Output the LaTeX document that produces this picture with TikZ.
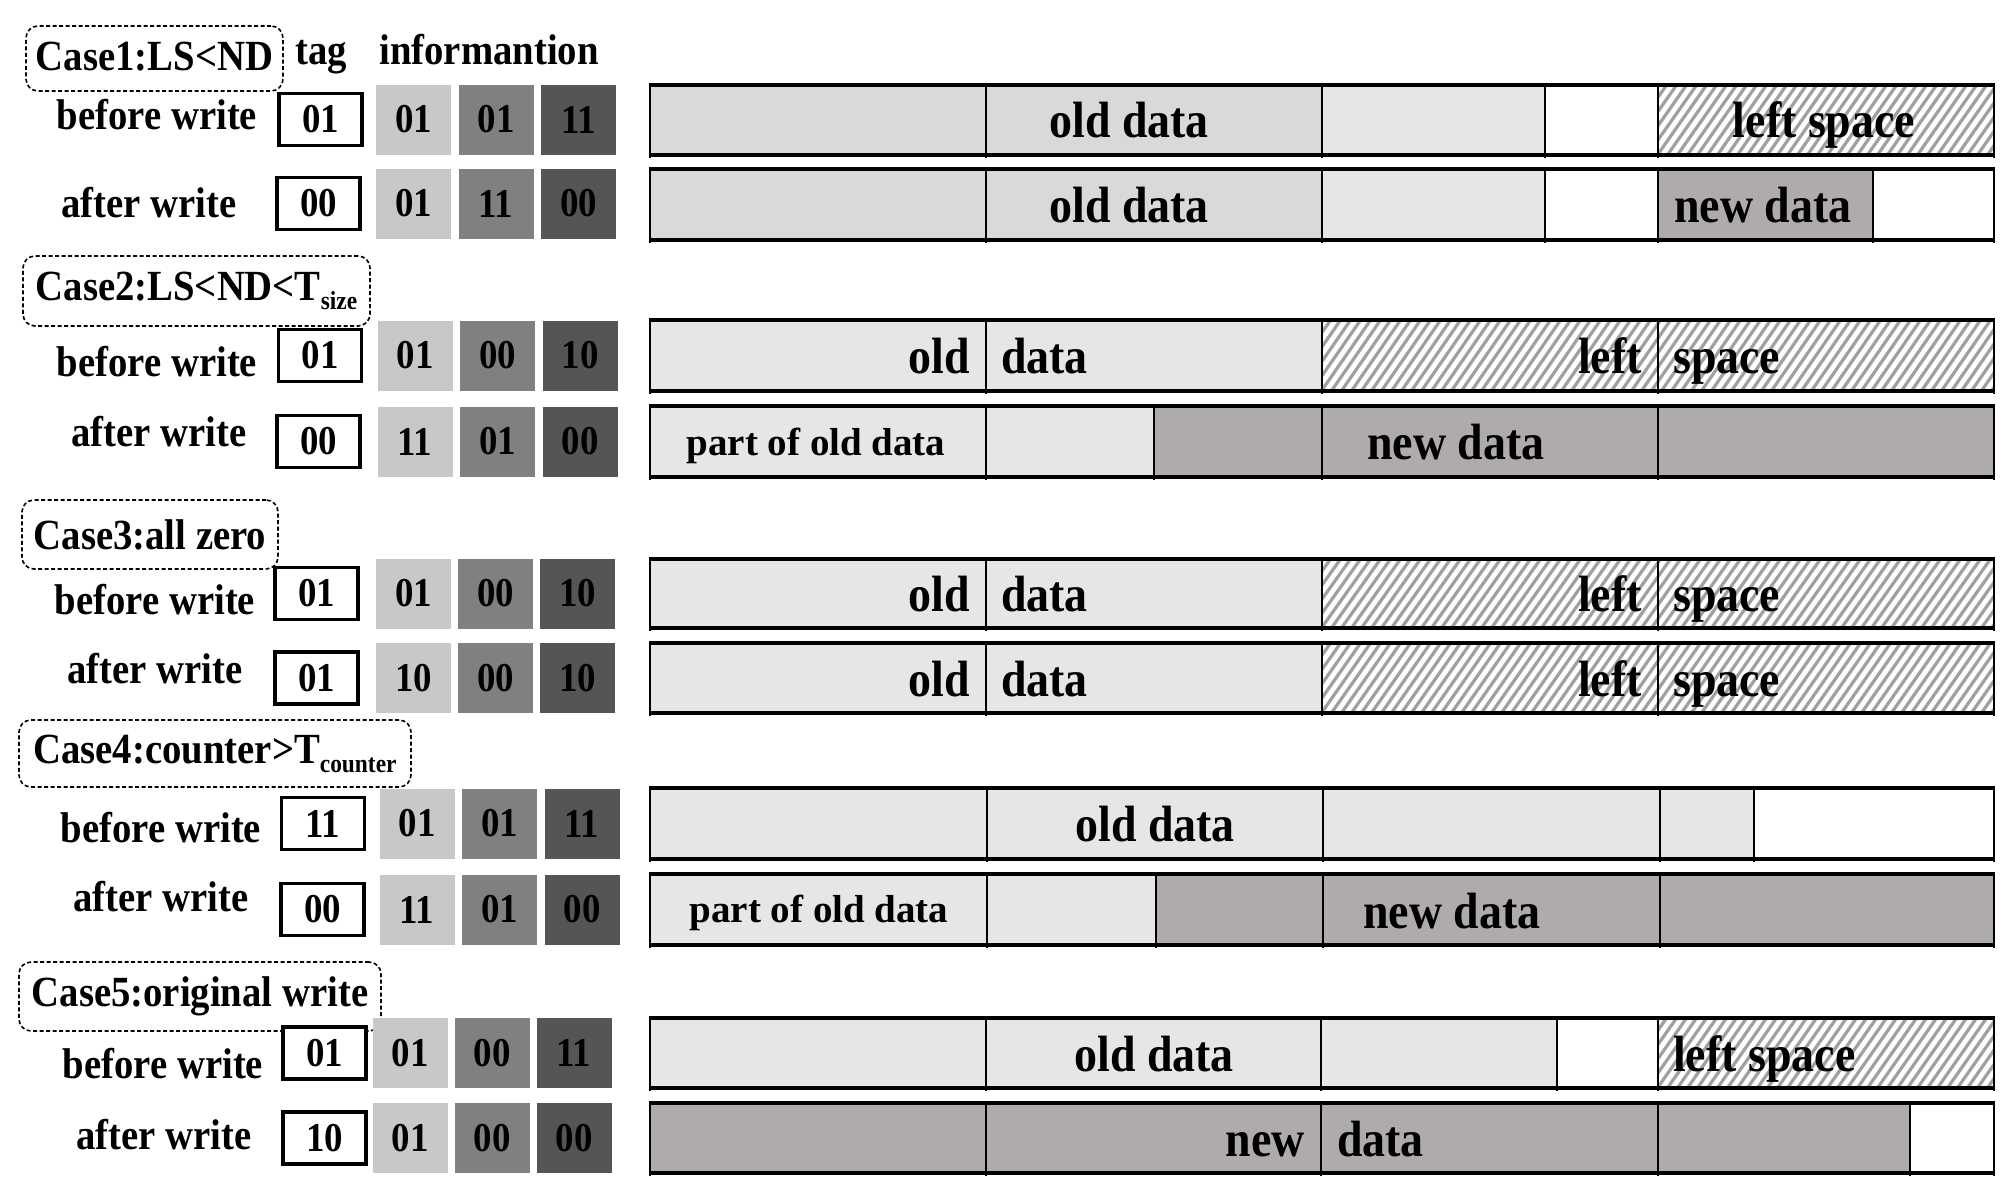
\documentclass[tikz,border=0pt]{standalone}
\usepackage{fontspec}
\newfontfamily\tnr{Liberation Serif}[FakeStretch=0.9]
\newfontfamily\tnrw{Liberation Serif}
\definecolor{sqA}{HTML}{C8C8C8}
\definecolor{sqB}{HTML}{808080}
\definecolor{sqC}{HTML}{555555}
\definecolor{oldA}{HTML}{D9D9D9}
\definecolor{oldB}{HTML}{E6E6E6}
\definecolor{newd}{HTML}{AFABAB}
\definecolor{hatchc}{HTML}{A0A0A0}
\tikzset{
  lbl/.style={font=\tnr\bfseries\fontsize{43}{43}\selectfont, inner sep=0pt, anchor=base},
  big/.style={font=\tnr\bfseries\fontsize{51}{51}\selectfont, inner sep=0pt, anchor=base},
  smalltxt/.style={font=\tnrw\bfseries\fontsize{39}{39}\selectfont, inner sep=0pt, anchor=base},
  casebox/.style={draw, dash pattern=on 4pt off 2.5pt, line width=1.6pt, rounded corners=12pt,
    inner sep=0pt, font=\tnr\bfseries\fontsize{43}{43}\selectfont},
  tagbox/.style={draw, line width=3.8pt, fill=white, inner sep=0pt, minimum width=83pt,
    minimum height=52pt, font=\tnr\bfseries\fontsize{41}{41}\selectfont},
  sqbox/.style={inner sep=0pt, minimum width=75pt, minimum height=70pt,
    font=\tnr\bfseries\fontsize{41}{41}\selectfont},
  hline/.style={line width=3.5pt},
  vline/.style={line width=1.8pt},
  hl/.style={hatchc, line width=3.2pt}
}
\newcommand\hatchrect[4]{%
  \begin{scope}
    \clip (#1,#2) rectangle (#3,#4);
    \fill[white] (#1,#2) rectangle (#3,#4);
    \foreach \i in {0,...,74} {\draw[hl] ({#1-52+10*\i},{#4+2}) -- ({#1+10*\i},{#2-2});}
  \end{scope}}
\newcommand\frameH[2]{%
  \draw[hline] (650,#1) -- (1994,#1);
  \draw[hline] (650,#2) -- (1994,#2);}
\newcommand\divs[3]{%
  \foreach \dx in {650,#3,1994} {\draw[vline] (\dx,{#1-2}) -- (\dx,{#2+3});}}
\newcommand\inforow[9]{% name, ycenter, tagx, tagval, x1, v1, v2, v3, dx
  \node[tagbox] (#1tag) at (#3,#2) {#4};
  \node[sqbox, fill=sqA] (#1s1) at (#5,#2) {#6};
  \node[sqbox, fill=sqB] (#1s2) at ({#5+#9},#2) {#7};
  \node[sqbox, fill=sqC] (#1s3) at ({#5+2*#9},#2) {#8};}
\begin{document}
\begin{tikzpicture}[x=1pt,y=-1pt]
\useasboundingbox (0,0) rectangle (2010,1192);
\fill[white] (0,0) rectangle (2010,1192);

% ---------------- Case 1 ----------------
\node[casebox, minimum width=257pt, minimum height=65pt] (c1) at (154.5,58.5) {\raisebox{4pt}{Case1:LS<ND}};
\node[lbl] (tagh) at (321,64) {tag};
\node[lbl] (infoh) at (489,64) {informantion};
\node[lbl] (c1b) at (157,129) {before write};
\node[lbl] (c1a) at (149,217) {after write};
\inforow{c1r1}{119.5}{320.5}{01}{413.5}{01}{01}{11}{82.5}
\inforow{c1r2}{203.5}{318.5}{00}{413.5}{01}{11}{00}{82.5}
% bar 1
\fill[oldA] (650,85) rectangle (1322,155);
\fill[oldB] (1322,85) rectangle (1545,155);
\hatchrect{1658}{85}{1994}{155}
\divs{85}{155}{986,1322,1545,1658}
\frameH{85}{155}
\node[big] (c1od) at (1129,137) {old data};
\node[big] (c1ls) at (1824,137) {left space};
% bar 2
\fill[oldA] (650,169) rectangle (1322,240);
\fill[oldB] (1322,169) rectangle (1545,240);
\fill[newd] (1658,169) rectangle (1873,240);
\divs{169}{240}{986,1322,1545,1658,1873}
\frameH{169}{240}
\node[big] (c1od2) at (1129,222) {old data};
\node[big] (c1nd) at (1763,222) {new data};

% ---------------- Case 2 ----------------
\node[casebox, minimum width=347pt, minimum height=70pt] (c2) at (196.5,291) {\raisebox{3pt}{Case2:LS<ND<T\raisebox{-9pt}{\fontsize{26}{26}\selectfont size}}};
\node[lbl] (c2b) at (157,376) {before write};
\node[lbl] (c2a) at (159,446) {after write};
\inforow{c2r1}{355.5}{320}{01}{415}{01}{00}{10}{82.5}
\inforow{c2r2}{441.5}{318.5}{00}{415}{11}{01}{00}{82.5}
\fill[oldB] (650,320) rectangle (1322,391);
\hatchrect{1322}{320}{1994}{391}
\divs{320}{391}{986,1322,1658}
\frameH{320}{391}
\node[big, anchor=base east] (c2o) at (970,373) {old};
\node[big, anchor=base west] (c2d) at (1001,373) {data};
\node[big, anchor=base east] (c2l) at (1642,373) {left};
\node[big, anchor=base west] (c2s) at (1673,373) {space};
\fill[oldB] (650,406) rectangle (1154,477);
\fill[newd] (1154,406) rectangle (1994,477);
\divs{406}{477}{986,1154,1322,1658}
\frameH{406}{477}
\node[smalltxt] (c2p) at (816,455) {part of old data};
\node[big] (c2n) at (1456,459) {new data};

% ---------------- Case 3 ----------------
\node[casebox, minimum width=256pt, minimum height=69pt] (c3) at (150,534.5) {\raisebox{-2pt}{Case3:all zero}};
\node[lbl] (c3b) at (155,614) {before write};
\node[lbl] (c3a) at (155,683) {after write};
\inforow{c3r1}{593.5}{316.5}{01}{413.5}{01}{00}{10}{82}
\inforow{c3r2}{678}{316.5}{01}{413.5}{10}{00}{10}{82}
\fill[oldB] (650,559) rectangle (1322,628);
\hatchrect{1322}{559}{1994}{628}
\divs{559}{628}{986,1322,1658}
\frameH{559}{628}
\node[big, anchor=base east] (c3o) at (970,611) {old};
\node[big, anchor=base west] (c3d) at (1001,611) {data};
\node[big, anchor=base east] (c3l) at (1642,611) {left};
\node[big, anchor=base west] (c3s) at (1673,611) {space};
\fill[oldB] (650,643) rectangle (1322,713);
\hatchrect{1322}{643}{1994}{713}
\divs{643}{713}{986,1322,1658}
\frameH{643}{713}
\node[big, anchor=base east] (c3o2) at (970,696) {old};
\node[big, anchor=base west] (c3d2) at (1001,696) {data};
\node[big, anchor=base east] (c3l2) at (1642,696) {left};
\node[big, anchor=base west] (c3s2) at (1673,696) {space};

% ---------------- Case 4 ----------------
\node[casebox, minimum width=392pt, minimum height=67pt] (c4) at (215,753.5) {\raisebox{0pt}{Case4:counter>T\raisebox{-9pt}{\fontsize{26}{26}\selectfont counter}}};
\node[lbl] (c4b) at (161,842) {before write};
\node[lbl] (c4a) at (161,911) {after write};
\inforow{c4r1}{823.5}{323}{11}{417}{01}{01}{11}{82.5}
\inforow{c4r2}{909.5}{322.5}{00}{417}{11}{01}{00}{82.5}
\fill[oldB] (650,788) rectangle (1754,859);
\divs{788}{859}{987,1323,1660,1754}
\frameH{788}{859}
\node[big] (c4od) at (1155,841) {old data};
\fill[oldB] (650,874) rectangle (1156,945);
\fill[newd] (1156,874) rectangle (1994,945);
\divs{874}{945}{987,1156,1323,1660}
\frameH{874}{945}
\node[smalltxt] (c4p) at (819,922) {part of old data};
\node[big] (c4n) at (1452,928) {new data};

% ---------------- Case 5 ----------------
\node[casebox, minimum width=362pt, minimum height=69pt] (c5) at (200,996.5) {\raisebox{-2pt}{Case5:original write}};
\node[lbl] (c5b) at (163,1078) {before write};
\node[lbl] (c5a) at (164,1149) {after write};
\inforow{c5r1}{1053}{324.5}{01}{410}{01}{00}{11}{82}
\inforow{c5r2}{1138}{324.5}{10}{410}{01}{00}{00}{82}
\fill[oldB] (650,1018) rectangle (1557,1088);
\hatchrect{1658}{1018}{1994}{1088}
\divs{1018}{1088}{986,1321,1557,1658}
\frameH{1018}{1088}
\node[big] (c5od) at (1154,1071) {old data};
\node[big, anchor=base west] (c5ls) at (1673,1071) {left space};
\fill[newd] (650,1103) rectangle (1910,1173);
\divs{1103}{1173}{986,1321,1658,1910}
\frameH{1103}{1173}
\node[big, anchor=base east] (c5n) at (1305,1156) {new};
\node[big, anchor=base west] (c5d) at (1337,1156) {data};
\end{tikzpicture}
\end{document}
